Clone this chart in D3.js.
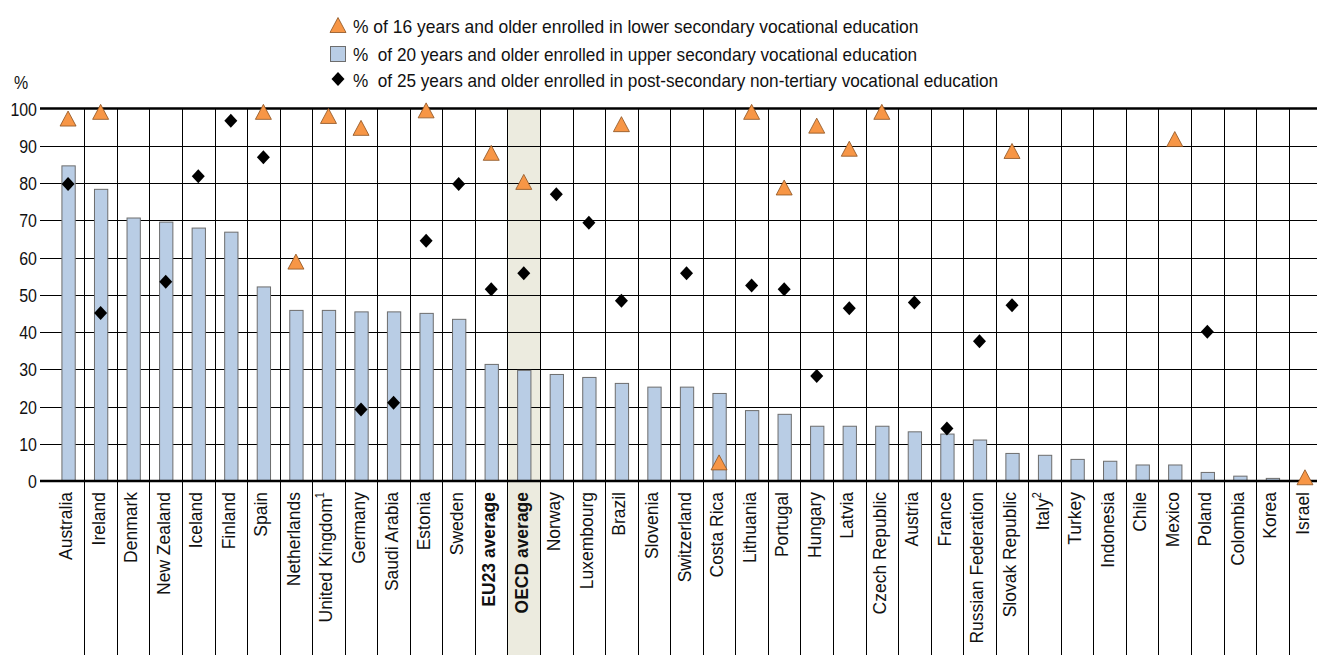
<!DOCTYPE html>
<html>
<head>
<meta charset="utf-8">
<script src="https://cdn.jsdelivr.net/npm/d3@7"></script>
<style>
  html, body { margin: 0; padding: 0; background: #fff; }
  svg { display: block; font-family: "Liberation Sans", Arial, sans-serif; }
</style>
</head>
<body>
<svg id="chart" width="1317" height="655"></svg>
<script>
const categories = ["Australia","Ireland","Denmark","New Zealand","Iceland","Finland","Spain","Netherlands","United Kingdom","Germany","Saudi Arabia","Estonia","Sweden","EU23 average","OECD average","Norway","Luxembourg","Brazil","Slovenia","Switzerland","Costa Rica","Lithuania","Portugal","Hungary","Latvia","Czech Republic","Austria","France","Russian Federation","Slovak Republic","Italy","Turkey","Indonesia","Chile","Mexico","Poland","Colombia","Korea","Israel"];
const labelNotes = {"United Kingdom": "1", "Italy": "2"};
const boldCategories = ["EU23 average", "OECD average"];
const highlightCategory = "OECD average";

// % of 20 years and older enrolled in upper secondary vocational education (bars)
const upperSecondary = [84.6,78.3,70.6,69.5,67.9,66.8,52.1,45.8,45.8,45.4,45.4,45.0,43.4,31.3,29.7,28.6,27.8,26.2,25.2,25.2,23.5,18.9,17.9,14.7,14.7,14.7,13.2,12.6,11.0,7.4,6.9,5.8,5.3,4.3,4.3,2.3,1.3,0.7,null];
// % of 16 years and older enrolled in lower secondary vocational education (triangles)
const lowerSecondary = [97.3,99.1,null,null,null,null,99.1,58.9,98.0,94.8,null,99.5,null,88.1,80.3,null,null,95.8,null,null,5.0,99.1,78.8,95.4,89.2,99.1,null,null,null,88.6,null,null,null,null,91.8,null,null,null,1.0];
// % of 25 years and older enrolled in post-secondary non-tertiary vocational education (diamonds)
const postSecondary = [79.7,45.1,null,53.5,81.8,96.7,86.9,null,null,19.2,21.0,64.5,79.7,51.5,55.8,77.0,69.3,48.4,null,55.8,null,52.5,51.5,28.2,46.4,null,47.9,14.1,37.5,47.2,null,null,null,null,null,40.1,null,null,null];

const yTicks = [0,10,20,30,40,50,60,70,80,90,100];
const legendLabels = [
  "% of 16 years and older enrolled in lower secondary vocational education",
  "%  of 20 years and older enrolled in upper secondary vocational education",
  "%  of 25 years and older enrolled in post-secondary non-tertiary vocational education"
];

const W = 1317, H = 655;
const svg = d3.select("#chart");

const x = d3.scaleBand().domain(categories).range([51.8, 51.8 + 32.55 * categories.length]).paddingInner(0).paddingOuter(0);
const y = d3.scaleLinear().domain([0, 100]).range([481, 108.5]);
const bw = x.bandwidth();
const cx = c => x(c) + bw / 2;

const colTri = "#f79646", colTriStroke = "#8a5020";
const colBar = "#b9cde5", colBarStroke = "#6d6d6d";

// highlight column
svg.append("rect")
  .attr("x", x(highlightCategory)).attr("y", y(100))
  .attr("width", bw).attr("height", H - y(100))
  .attr("fill", "#ecebdf");

// horizontal gridlines
svg.append("g").selectAll("line").data(yTicks.filter(t => t !== 0 && t !== 100)).join("line")
  .attr("x1", 40).attr("x2", W)
  .attr("y1", d => Math.round(y(d)) + 0.5).attr("y2", d => Math.round(y(d)) + 0.5)
  .attr("stroke", "#000").attr("stroke-width", 1);

// vertical separators
svg.append("g").selectAll("line").data(categories.slice(1)).join("line")
  .attr("x1", d => Math.round(x(d)) + 0.5).attr("x2", d => Math.round(x(d)) + 0.5)
  .attr("y1", y(100)).attr("y2", H)
  .attr("stroke", "#000").attr("stroke-width", 1);

// bars
const barW = 13.3;
svg.append("g").selectAll("rect")
  .data(categories.map((c, i) => ({c, v: upperSecondary[i]})).filter(d => d.v != null))
  .join("rect")
  .attr("x", d => cx(d.c) - barW / 2 + 0.5)
  .attr("y", d => y(d.v))
  .attr("width", barW)
  .attr("height", d => y(0) - y(d.v))
  .attr("fill", colBar).attr("stroke", colBarStroke).attr("stroke-width", 1);

// heavy 0 and 100 lines
[0, 100].forEach(t => {
  svg.append("line").attr("x1", 40).attr("x2", W)
    .attr("y1", y(t)).attr("y2", y(t))
    .attr("stroke", "#000").attr("stroke-width", 2.5);
});

// diamonds
const diamond = "M0,-7L6.5,0L0,7L-6.5,0Z";
svg.append("g").selectAll("path")
  .data(categories.map((c, i) => ({c, v: postSecondary[i]})).filter(d => d.v != null))
  .join("path")
  .attr("d", diamond)
  .attr("transform", d => `translate(${cx(d.c)},${y(d.v)})`)
  .attr("fill", "#000");

// triangles
const tri = "M-8,7.5L0,-7.5L8,7.5Z";
svg.append("g").selectAll("path")
  .data(categories.map((c, i) => ({c, v: lowerSecondary[i]})).filter(d => d.v != null))
  .join("path")
  .attr("d", tri)
  .attr("transform", d => `translate(${cx(d.c)},${y(d.v)})`)
  .attr("fill", colTri).attr("stroke", colTriStroke).attr("stroke-width", 0.8);

// y tick labels
const fontSize = 19, sx = 0.84;
svg.append("g").selectAll("text").data(yTicks).join("text")
  .attr("transform", d => `translate(37,${y(d) + 7}) scale(${sx},1)`)
  .attr("text-anchor", "end")
  .attr("font-size", fontSize)
  .attr("fill", "#111")
  .text(d => d);

svg.append("text")
  .attr("transform", `translate(14,89) scale(${sx},1)`)
  .attr("font-size", fontSize).attr("fill", "#111")
  .text("%");

// category labels
const lab = svg.append("g").selectAll("text").data(categories).join("text")
  .attr("transform", d => `translate(${cx(d) + 4},492) rotate(-90) scale(0.92,1)`)
  .attr("text-anchor", "end")
  .attr("font-size", 19)
  .attr("font-weight", d => boldCategories.includes(d) ? "bold" : "normal")
  .attr("fill", "#111");
lab.each(function(d) {
  const t = d3.select(this);
  t.append("tspan").text(d);
  if (labelNotes[d]) {
    t.append("tspan").attr("font-size", 12).attr("dy", -8).text(labelNotes[d]);
  }
});

// legend
const lg = svg.append("g");
const lx = 338, ly = [25, 54, 79];
lg.append("path").attr("d", tri).attr("transform", `translate(${lx},${ly[0]})`)
  .attr("fill", colTri).attr("stroke", colTriStroke).attr("stroke-width", 0.8);
lg.append("rect").attr("x", lx - 7.5).attr("y", ly[1] - 7.5).attr("width", 15).attr("height", 15)
  .attr("fill", colBar).attr("stroke", colBarStroke).attr("stroke-width", 1);
lg.append("path").attr("d", diamond).attr("transform", `translate(${lx},${ly[2]})`).attr("fill", "#000");
legendLabels.forEach((t, i) => {
  lg.append("text")
    .attr("transform", `translate(353,${[33, 61, 87][i]}) scale(${[0.97, 0.955, 0.955][i]},1)`)
    .attr("font-size", 18).attr("fill", "#111")
    .style("white-space", "pre")
    .text(t);
});
</script>
</body>
</html>
